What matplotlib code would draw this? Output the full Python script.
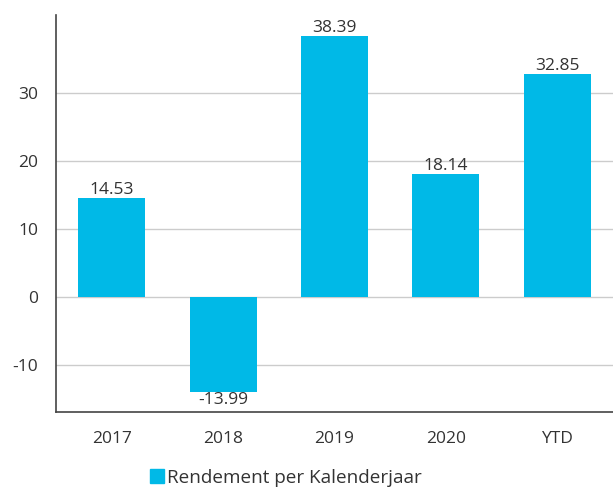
import matplotlib
matplotlib.use("Agg")
import matplotlib.pyplot as plt
from matplotlib.patches import Patch

categories = ["2017", "2018", "2019", "2020", "YTD"]
values = [14.53, -13.99, 38.39, 18.14, 32.85]
yticks = [-10, 0, 10, 20, 30]
series_name = "Rendement per Kalenderjaar"

color = "#00B9E7"
text_color = "#333333"
plt.rcParams['font.family'] = ['Open Sans', 'DejaVu Sans']
plt.rcParams['axes.unicode_minus'] = False

fig = plt.figure(figsize=(6.13, 4.95), dpi=100)
ax = fig.add_axes([56/613, 1-412/495, 1-56/613, (412-15)/495])

x = list(range(len(categories)))
bars = ax.bar(x, values, width=0.6, color=color, zorder=3)
for xi, v in zip(x, values):
    if v >= 0:
        ax.annotate(f"{v:.2f}", (xi, v), xytext=(0, 0), textcoords="offset points",
                    ha="center", va="bottom", fontsize=12.5, color=text_color)
    else:
        ax.annotate(f"{v:.2f}", (xi, v), xytext=(0, 0), textcoords="offset points",
                    ha="center", va="top", fontsize=12.5, color=text_color)

ax.set_xlim(-0.5, len(categories) - 0.5)
ax.set_ylim(-16.9, 41.5)
ax.set_yticks(yticks)
ax.set_xticks(x)
ax.set_xticklabels(categories)
ax.tick_params(axis="both", length=0, labelsize=12.5, colors=text_color)
ax.tick_params(axis="y", pad=13)
ax.tick_params(axis="x", pad=14)
ax.grid(axis="y", color="#cccccc", linewidth=1, zorder=0)
for s in ["top", "right"]:
    ax.spines[s].set_visible(False)
for s in ["left", "bottom"]:
    ax.spines[s].set_color("#444444")
    ax.spines[s].set_linewidth(1.2)

fig.legend(handles=[Patch(color=color, label=series_name)], loc="center",
           bbox_to_anchor=(286/613, 1-478/495), frameon=False, fontsize=13.6,
           handlelength=0.75, handleheight=0.75, handletextpad=0.15,
           labelcolor=text_color)

fig.savefig("out.png", dpi=100)
